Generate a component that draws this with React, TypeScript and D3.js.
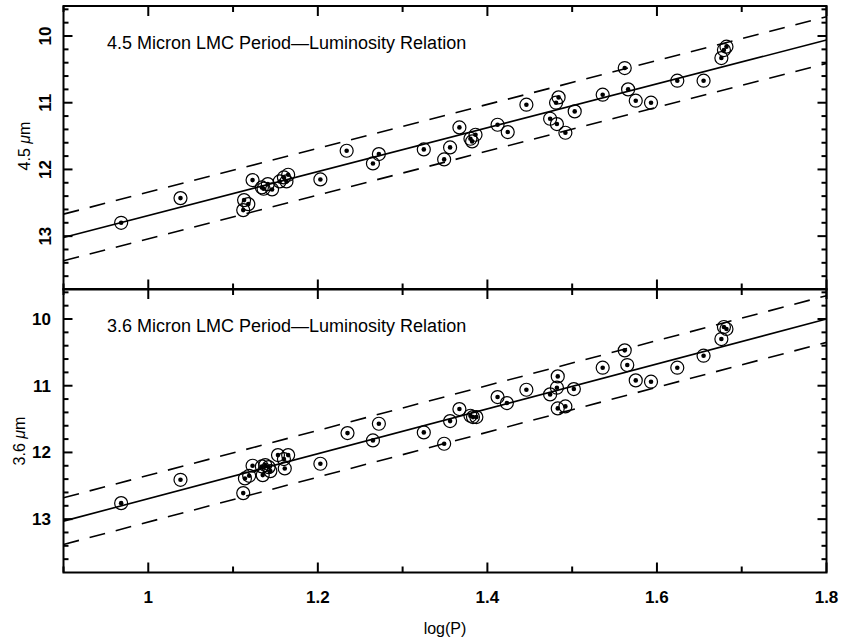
import { useEffect, useRef } from "react";
import * as d3 from "d3";

// 4.5 micron panel
const logP45 = [0.968, 1.038, 1.113, 1.118, 1.112, 1.123, 1.134, 1.136, 1.141, 1.146, 1.155, 1.16, 1.163, 1.165, 1.203, 1.234, 1.265, 1.272, 1.325, 1.349, 1.356, 1.367, 1.38, 1.382, 1.386, 1.412, 1.424, 1.446, 1.474, 1.482, 1.481, 1.484, 1.492, 1.503, 1.536, 1.562, 1.566, 1.575, 1.593, 1.624, 1.655, 1.676, 1.679, 1.682];
const mag45 = [12.8, 12.43, 12.46, 12.52, 12.61, 12.16, 12.27, 12.29, 12.22, 12.3, 12.18, 12.12, 12.18, 12.08, 12.15, 11.72, 11.91, 11.77, 11.7, 11.85, 11.67, 11.37, 11.54, 11.58, 11.48, 11.33, 11.44, 11.03, 11.24, 11.32, 11.0, 10.92, 11.45, 11.13, 10.88, 10.48, 10.8, 10.97, 11.0, 10.67, 10.67, 10.33, 10.21, 10.16];

// 3.6 micron panel
const logP36 = [0.968, 1.038, 1.112, 1.114, 1.119, 1.123, 1.134, 1.135, 1.138, 1.142, 1.144, 1.153, 1.16, 1.161, 1.165, 1.203, 1.235, 1.265, 1.272, 1.325, 1.349, 1.356, 1.367, 1.38, 1.383, 1.387, 1.412, 1.423, 1.446, 1.474, 1.482, 1.483, 1.483, 1.492, 1.502, 1.536, 1.562, 1.565, 1.575, 1.593, 1.624, 1.655, 1.676, 1.679, 1.682];
const mag36 = [12.76, 12.41, 12.61, 12.39, 12.35, 12.2, 12.21, 12.34, 12.19, 12.22, 12.28, 12.04, 12.1, 12.24, 12.04, 12.17, 11.71, 11.82, 11.57, 11.7, 11.87, 11.53, 11.35, 11.45, 11.47, 11.47, 11.17, 11.26, 11.06, 11.13, 11.03, 10.86, 11.34, 11.31, 11.05, 10.73, 10.47, 10.69, 10.92, 10.94, 10.73, 10.55, 10.3, 10.12, 10.15];

// fitted relations (end points) and the dashed band half-width
const fitLogP = [0.9, 1.8];
const fit45 = [13.02, 10.06];
const fit36 = [13.03, 10.0];
const bandHalfWidth = 0.35;

const xTickLabels = [1, 1.2, 1.4, 1.6, 1.8];
const yTickLabels = [10, 11, 12, 13];

const W = 843;
const H = 642;

const App = () => {
  const ref = useRef<SVGSVGElement | null>(null);

  useEffect(() => {
    if (!ref.current) return;
    const svg = d3.select(ref.current);
    svg.selectAll("*").remove();

    const left = 63.5;
    const right = 826.5;
    const panelTops = [6, 289];
    const panelH = 283.5;

    const x = d3.scaleLinear().domain([0.9, 1.8]).range([left, right]);
    const xMinor = d3.range(9, 19).map((d) => d / 10);
    const font = "'Liberation Sans', Arial, Helvetica, sans-serif";

    const panels = [
      { title: "4.5 Micron LMC Period\u2014Luminosity Relation", unit: "4.5", logP: logP45, mag: mag45, fit: fit45, rotated: true },
      { title: "3.6 Micron LMC Period\u2014Luminosity Relation", unit: "3.6", logP: logP36, mag: mag36, fit: fit36, rotated: false },
    ];

    panels.forEach((p, pi) => {
      const top = panelTops[pi];
      const bottom = top + panelH;
      const y = d3.scaleLinear().domain([9.55, 13.8]).range([top, bottom]);
      const g = svg.append("g");

      const clipId = `clip-${pi}`;
      g.append("clipPath")
        .attr("id", clipId)
        .append("rect")
        .attr("x", left)
        .attr("y", top)
        .attr("width", right - left)
        .attr("height", bottom - top);

      // fit lines
      const fitPts = fitLogP.map((lp, i) => [lp, p.fit[i]]);
      const line = d3
        .line<number[]>()
        .x((d) => x(d[0]))
        .y((d) => y(d[1]));

      const lines = g.append("g").attr("clip-path", `url(#${clipId})`);
      lines
        .append("path")
        .attr("d", line(fitPts))
        .attr("fill", "none")
        .attr("stroke", "#000")
        .attr("stroke-width", 1.6);

      [-bandHalfWidth, bandHalfWidth].forEach((off) => {
        lines
          .append("path")
          .attr("d", line(fitPts.map((d) => [d[0], d[1] + off])))
          .attr("fill", "none")
          .attr("stroke", "#000")
          .attr("stroke-width", 1.6)
          .attr("stroke-dasharray", "16,11");
      });

      // data points: open circle with central dot
      const pts = p.logP.map((lp, i) => ({ lp, m: p.mag[i] }));
      g.selectAll(".ring")
        .data(pts)
        .enter()
        .append("circle")
        .attr("cx", (d) => x(d.lp))
        .attr("cy", (d) => y(d.m))
        .attr("r", 6.5)
        .attr("fill", "none")
        .attr("stroke", "#000")
        .attr("stroke-width", 1.2);
      g.selectAll(".dot")
        .data(pts)
        .enter()
        .append("circle")
        .attr("cx", (d) => x(d.lp))
        .attr("cy", (d) => y(d.m))
        .attr("r", 2.3)
        .attr("fill", "#000");

      // frame
      g.append("rect")
        .attr("x", left)
        .attr("y", top)
        .attr("width", right - left)
        .attr("height", bottom - top)
        .attr("fill", "none")
        .attr("stroke", "#000")
        .attr("stroke-width", 2);

      // x ticks (top and bottom, inward)
      xMinor.forEach((v) => {
        const major = xTickLabels.some((t) => Math.abs(t - v) < 1e-6);
        const len = major ? 10 : 6;
        g.append("line")
          .attr("x1", x(v)).attr("x2", x(v))
          .attr("y1", bottom).attr("y2", bottom - len)
          .attr("stroke", "#000").attr("stroke-width", 2);
        g.append("line")
          .attr("x1", x(v)).attr("x2", x(v))
          .attr("y1", top).attr("y2", top + len)
          .attr("stroke", "#000").attr("stroke-width", 2);
      });

      // y ticks (left and right, inward)
      d3.range(48, 69).forEach((k) => {
        const v = k / 5;
        const major = Math.abs(v - Math.round(v)) < 1e-6;
        const len = major ? 9 : 5;
        const yy = y(v);
        if (yy < top + 1 || yy > bottom - 1) return;
        g.append("line")
          .attr("x1", left).attr("x2", left + len)
          .attr("y1", yy).attr("y2", yy)
          .attr("stroke", "#000").attr("stroke-width", 2);
        g.append("line")
          .attr("x1", right).attr("x2", right - len)
          .attr("y1", yy).attr("y2", yy)
          .attr("stroke", "#000").attr("stroke-width", 2);
      });

      // y tick labels
      yTickLabels.forEach((v) => {
        const t = g.append("text")
          .text(v)
          .attr("font-family", font)
          .attr("font-size", 17)
          .attr("font-weight", 700)
          .attr("fill", "#000");
        if (p.rotated) {
          t.attr("text-anchor", "middle")
            .attr("transform", `translate(51,${y(v)}) rotate(-90)`);
        } else {
          t.attr("text-anchor", "end")
            .attr("x", 51)
            .attr("y", y(v) + 6);
        }
      });

      // y axis label
      const lab = g.append("text")
        .attr("font-family", font)
        .attr("font-size", 16)
        .attr("text-anchor", "middle")
        .attr("fill", "#000")
        .attr("transform", `translate(${pi === 0 ? 30 : 25},${pi === 0 ? 146 : 441}) rotate(-90)`);
      lab.append("tspan").text(`${p.unit} `);
      lab.append("tspan").attr("font-style", "italic").text("\u03bc");
      lab.append("tspan").text("m");

      // panel title
      g.append("text")
        .attr("x", 107)
        .attr("y", top + 43)
        .attr("font-family", font)
        .attr("font-size", 18)
        .attr("fill", "#000")
        .text(p.title);
    });

    // x tick labels and axis title
    xTickLabels.forEach((v) => {
      svg.append("text")
        .attr("x", x(v))
        .attr("y", 603)
        .attr("text-anchor", "middle")
        .attr("font-family", font)
        .attr("font-size", 17)
        .attr("font-weight", 700)
        .text(v);
    });

    svg.append("text")
      .attr("x", (left + right) / 2)
      .attr("y", 634)
      .attr("text-anchor", "middle")
      .attr("font-family", font)
      .attr("font-size", 16)
      .text("log(P)");
  }, []);

  return (
    <svg
      ref={ref}
      width={W}
      height={H}
      style={{ position: "absolute", left: 0, top: 0, background: "#fff" }}
    />
  );
};

export default App;
